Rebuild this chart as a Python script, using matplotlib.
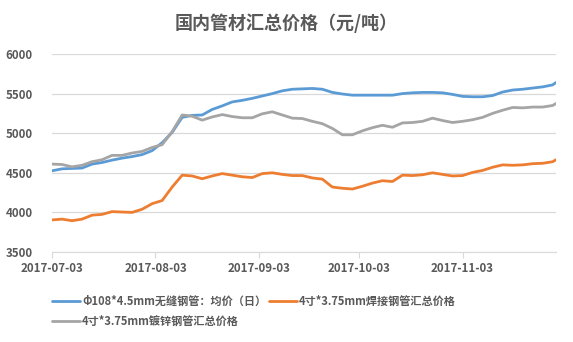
import matplotlib
matplotlib.use("Agg")
import matplotlib.pyplot as plt
import matplotlib.dates as mdates
import numpy as np
import datetime as dt

plt.rcParams['font.family'] = ['Noto Sans CJK SC', 'DejaVu Sans']

# 日期：2017-07-03 起每3天一个点，最后补 12-01
start = dt.date(2017, 7, 3)
dates = [start + dt.timedelta(days=3 * i) for i in range(51)] + [dt.date(2017, 12, 1)]

seamless = [4525, 4550, 4555, 4560, 4610, 4630, 4660, 4685, 4705, 4730,
            4780, 4880, 5010, 5200, 5225, 5230, 5300, 5345, 5395, 5415,
            5440, 5470, 5500, 5535, 5555, 5560, 5565, 5555, 5515, 5495,
            5480, 5480, 5480, 5480, 5480, 5500, 5510, 5515, 5515, 5510,
            5490, 5465, 5460, 5460, 5475, 5520, 5545, 5555, 5570, 5585,
            5610, 5640]
welded = [3905, 3915, 3895, 3915, 3965, 3975, 4010, 4005, 4000, 4040,
          4110, 4150, 4320, 4470, 4460, 4425, 4460, 4490, 4470, 4450,
          4440, 4490, 4500, 4480, 4465, 4465, 4435, 4420, 4320, 4305,
          4295, 4330, 4370, 4400, 4390, 4470, 4465, 4475, 4500, 4480,
          4460, 4465, 4505, 4530, 4570, 4600, 4595, 4600, 4615, 4620,
          4640, 4665]
galvanized = [4610, 4605, 4575, 4595, 4640, 4665, 4720, 4720, 4750, 4770,
              4820, 4855, 5020, 5230, 5215, 5165, 5205, 5235, 5210, 5195,
              5195, 5245, 5270, 5230, 5190, 5185, 5150, 5120, 5060, 4980,
              4980, 5030, 5070, 5100, 5075, 5130, 5135, 5150, 5190, 5160,
              5135, 5150, 5170, 5200, 5250, 5290, 5325, 5320, 5330, 5330,
              5350, 5375]

labels = ['Φ108*4.5mm无缝钢管：均价（日）', '4寸*3.75mm焊接钢管汇总价格', '4寸*3.75mm镀锌钢管汇总价格']
colors = ['#5B9BD5', '#ED7D31', '#A5A5A5']
tick_dates = [dt.date(2017, m, 3) for m in range(7, 12)]

txt = '#595959'
fig = plt.figure(figsize=(5.73, 3.42), dpi=100)
ax = fig.add_axes([52 / 573, 90 / 342, 504 / 573, 198 / 342])

lines = []
for vals, lab, c in zip([seamless, welded, galvanized], labels, colors):
    ln, = ax.plot(dates, vals, color=c, lw=2.0, label=lab, solid_capstyle='round')
    lines.append(ln)

ax.set_ylim(3500, 6000)
ax.set_yticks(np.arange(3500, 6001, 500))
ax.set_xlim(dt.date(2017, 7, 3), dt.date(2017, 12, 1))
ax.set_xticks(tick_dates)
ax.xaxis.set_major_formatter(mdates.DateFormatter('%Y-%m-%d'))
ax.grid(axis='y', color='#D9D9D9', lw=0.9)
ax.set_axisbelow(True)
for s in ['left', 'right', 'top']:
    ax.spines[s].set_visible(False)
ax.spines['bottom'].set_color('#D9D9D9')
ax.tick_params(axis='y', length=0, pad=14, labelsize=8.3, labelcolor=txt)
ax.tick_params(axis='x', length=4, color='#D9D9D9', pad=3, labelsize=8.3, labelcolor=txt)
for t in ax.get_xticklabels() + ax.get_yticklabels():
    t.set_fontweight('bold')

fig.text(0.5, 1 - 23 / 342, '国内管材汇总价格（元/吨）', ha='center', va='center',
         fontsize=13, color=txt, fontweight='bold')

# 图例按列填充：第一列 无缝 + 镀锌，第二列 焊接
order = [0, 2, 1]
leg = fig.legend([lines[i] for i in order], [labels[i] for i in order],
                 loc='upper left', bbox_to_anchor=(42 / 573, 1 - 285 / 342), ncol=2,
                 frameon=False, handlelength=2.5, handletextpad=0.2, columnspacing=0.25,
                 labelspacing=0.6, prop={'size': 8.0, 'weight': 'bold'})
for t in leg.get_texts():
    t.set_color(txt)

fig.savefig('out.png', dpi=100)
